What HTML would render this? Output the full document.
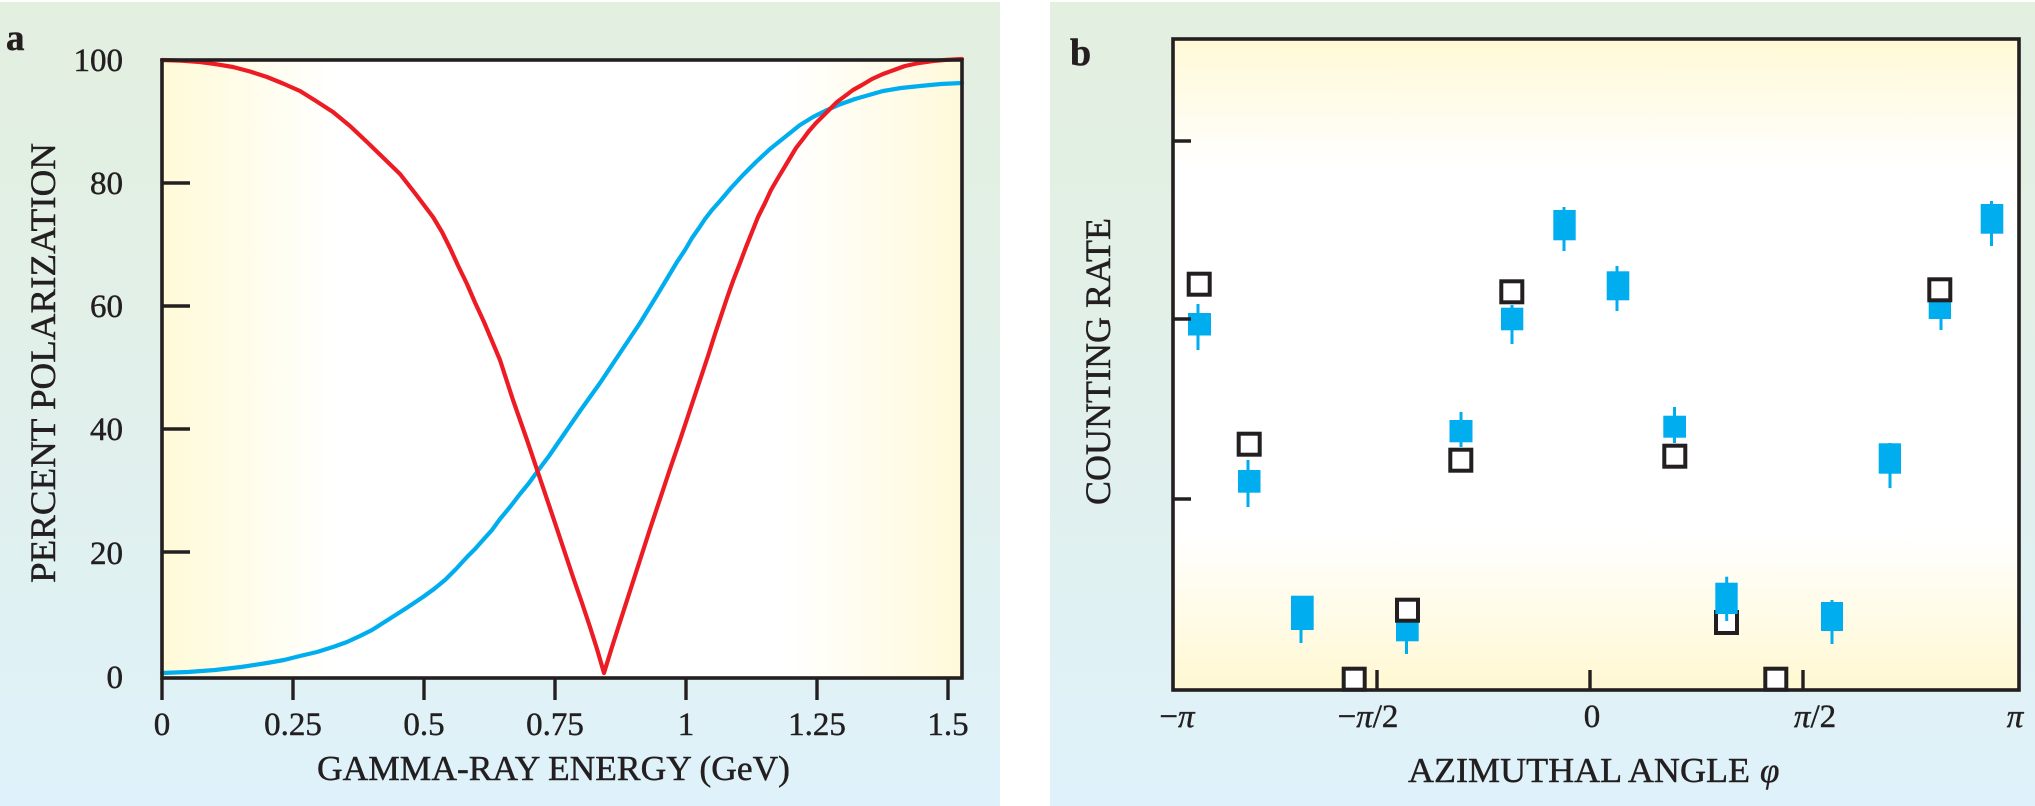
<!DOCTYPE html>
<html>
<head>
<meta charset="utf-8">
<style>
  html,body{margin:0;padding:0;background:#ffffff;}
  svg{display:block;}
  text{font-family:"Liberation Serif","DejaVu Serif",serif;fill:#231F20;stroke:#231F20;stroke-width:0.45px;}
</style>
</head>
<body>
<svg width="2035" height="806" viewBox="0 0 2035 806" xmlns="http://www.w3.org/2000/svg">
  <defs>
    <linearGradient id="outer" x1="0" y1="0" x2="0" y2="1">
      <stop offset="0" stop-color="#E3EFDF"/>
      <stop offset="0.5" stop-color="#E1F0EB"/>
      <stop offset="1" stop-color="#DFF2FB"/>
    </linearGradient>
    <linearGradient id="innerA" x1="162" y1="0" x2="962" y2="0" gradientUnits="userSpaceOnUse">
      <stop offset="0" stop-color="#FFFAD7"/>
      <stop offset="0.22" stop-color="#FFFFFF"/>
      <stop offset="0.78" stop-color="#FFFFFF"/>
      <stop offset="1" stop-color="#FFF9DA"/>
    </linearGradient>
    <linearGradient id="innerB" x1="0" y1="39" x2="0" y2="690" gradientUnits="userSpaceOnUse">
      <stop offset="0" stop-color="#FFF9D6"/>
      <stop offset="0.2" stop-color="#FFFFFF"/>
      <stop offset="0.76" stop-color="#FFFFFF"/>
      <stop offset="1" stop-color="#FFF8D2"/>
    </linearGradient>
  </defs>

  <!-- Panel backgrounds -->
  <rect x="0" y="2" width="1000" height="804" fill="url(#outer)"/>
  <rect x="1050" y="2" width="985" height="804" fill="url(#outer)"/>

  <!-- ================= PANEL A ================= -->
  <rect x="162" y="60" width="800" height="618" fill="url(#innerA)"/>

  <!-- curves -->
  <path fill="none" stroke="#00AEEF" stroke-width="4.2" stroke-linejoin="round" stroke-linecap="round"
    d="M162,673 L188,672 L215,670 L241,667 L267,663 L284,660 L300,656 L317,652 L333,647 L347,642 L360,636 L372,630 L383,623 L394,616 L405,609 L414,603 L423,597 L434,589 L445,580 L456,569 L467,557 L475,549 L483,540 L492,530 L500,519 L510,507 L520,494 L529,483 L537,472 L549,456 L560,440 L580,411 L600,383 L620,353 L640,323 L659,292 L677,262 L685,250 L692,238 L699,228 L705,219 L712,210 L720,201 L731,188 L743,175 L756,162 L770,149 L785,137 L800,125 L813,117 L827,110 L841,104 L855,99 L869,95 L883,91 L901,88 L920,86 L941,84 L962,83"/>
  <path fill="none" stroke="#ED1C24" stroke-width="4.2" stroke-linejoin="round" stroke-linecap="round"
    d="M162,60 L181,60.6 L200,62 L216,64.2 L233,67 L250,71.5 L267,77 L283,83.5 L300,91 L316,101 L333,112 L350,126 L367,142 L383,157.5 L400,174 L416,194.5 L433,217 L442,232 L450,248 L458,265.5 L467,284 L475,302.5 L484,322 L492,341 L500,360 L513,400 L527,440 L540,478.5 L553,517 L563,547 L573,577 L582,603 L590,627 L597,649 L604,673 L612,647 L620,622 L630,591 L640,560 L650,529 L660,499 L670,469 L680,440 L690,410 L700,380 L708,356 L715,334 L721,316 L727,298 L733,281 L740,263 L746,247 L752,232 L758,217 L765,203 L771,190 L778,178 L784,168 L790,158 L796,148 L803,139 L809,131 L816,123 L823,116 L830,109 L837,102 L845,96 L853,90 L862,85 L872,79 L883,74 L894,70 L905,66 L919,63 L933,61 L947,59.8 L962,59"/>

  <!-- axes box -->
  <rect x="162" y="60" width="800" height="618" fill="none" stroke="#231F20" stroke-width="3.6"/>
  <g stroke="#231F20" stroke-width="3.4">
    <line x1="162" y1="183" x2="190" y2="183"/>
    <line x1="162" y1="306" x2="190" y2="306"/>
    <line x1="162" y1="429" x2="190" y2="429"/>
    <line x1="162" y1="552" x2="190" y2="552"/>
    <line x1="162" y1="678" x2="162" y2="700"/>
    <line x1="293" y1="678" x2="293" y2="700"/>
    <line x1="424" y1="678" x2="424" y2="700"/>
    <line x1="555" y1="678" x2="555" y2="700"/>
    <line x1="686" y1="678" x2="686" y2="700"/>
    <line x1="817" y1="678" x2="817" y2="700"/>
    <line x1="948" y1="678" x2="948" y2="700"/>
  </g>
  <!-- y tick labels -->
  <g font-size="33" text-anchor="end">
    <text x="123" y="71">100</text>
    <text x="123" y="194">80</text>
    <text x="123" y="317">60</text>
    <text x="123" y="440">40</text>
    <text x="123" y="564">20</text>
    <text x="123" y="688">0</text>
  </g>
  <!-- x tick labels -->
  <g font-size="33" text-anchor="middle">
    <text x="162" y="735">0</text>
    <text x="293" y="735">0.25</text>
    <text x="424" y="735">0.5</text>
    <text x="555" y="735">0.75</text>
    <text x="686" y="735">1</text>
    <text x="817" y="735">1.25</text>
    <text x="948" y="735">1.5</text>
  </g>
  <text x="317" y="780" font-size="35" textLength="473" lengthAdjust="spacingAndGlyphs">GAMMA-RAY ENERGY (GeV)</text>
  <text transform="translate(55,583) rotate(-90)" x="0" y="0" font-size="36" textLength="440" lengthAdjust="spacingAndGlyphs">PERCENT POLARIZATION</text>
  <text x="6" y="50" font-size="37" font-weight="bold">a</text>

  <!-- ================= PANEL B ================= -->
  <rect x="1173" y="39" width="846" height="651" fill="url(#innerB)"/>

  <!-- blue data points (under squares) -->
  <g fill="#00AEEF" stroke="none">
    <rect x="1188" y="313" width="23" height="22.5"/>
    <rect x="1238" y="470" width="22.5" height="22.7"/>
    <rect x="1449.5" y="420" width="23" height="22.3"/>
    <rect x="1501" y="307.7" width="22.3" height="22.6"/>
    <rect x="1553.3" y="210" width="22.4" height="30.3"/>
    <rect x="1606.7" y="271.3" width="22.6" height="29"/>
    <rect x="1663.3" y="415.7" width="22.7" height="22"/>
    <rect x="1878.7" y="443.3" width="22.3" height="30.4"/>
    <rect x="1928.7" y="296" width="22.3" height="23"/>
    <rect x="1980.7" y="204" width="22.6" height="29.7"/>
    <rect x="1291" y="595.7" width="22.7" height="34.3"/>
    <rect x="1396" y="612" width="22.7" height="29.3"/>
    <rect x="1821" y="602" width="22" height="29"/>
  </g>
  <g stroke="#00AEEF" stroke-width="3">
    <line x1="1198" y1="304" x2="1198" y2="350"/>
    <line x1="1248" y1="460" x2="1248" y2="507"/>
    <line x1="1461" y1="412" x2="1461" y2="447"/>
    <line x1="1512" y1="305" x2="1512" y2="344"/>
    <line x1="1564" y1="207" x2="1564" y2="251"/>
    <line x1="1617" y1="266" x2="1617" y2="311"/>
    <line x1="1674.5" y1="407" x2="1674.5" y2="443"/>
    <line x1="1890" y1="443" x2="1890" y2="488"/>
    <line x1="1941" y1="300" x2="1941" y2="330"/>
    <line x1="1991.5" y1="201" x2="1991.5" y2="246"/>
    <line x1="1301" y1="596" x2="1301" y2="643"/>
    <line x1="1406.5" y1="605" x2="1406.5" y2="654"/>
    <line x1="1832" y1="600" x2="1832" y2="644"/>
  </g>

  <!-- open squares -->
  <g fill="#FFFFFF" stroke="#231F20" stroke-width="4">
    <rect x="1188.7" y="273.7" width="21" height="21"/>
    <rect x="1238.7" y="433.7" width="21" height="21"/>
    <rect x="1450.3" y="449.7" width="21" height="21"/>
    <rect x="1501.3" y="281.3" width="21" height="21"/>
    <rect x="1664.3" y="445.7" width="21" height="21"/>
    <rect x="1929.3" y="279.3" width="21" height="21"/>
    <rect x="1343.7" y="668.7" width="21" height="21"/>
    <rect x="1397" y="599.7" width="21" height="21"/>
    <rect x="1716" y="612" width="21" height="21"/>
    <rect x="1765.3" y="668.7" width="21" height="21"/>
  </g>

  <!-- blue point drawn over square -->
  <rect x="1715.3" y="582.7" width="22.4" height="31.3" fill="#00AEEF"/>
  <line x1="1726.7" y1="576.7" x2="1726.7" y2="621" stroke="#00AEEF" stroke-width="3"/>

  <!-- axes box -->
  <rect x="1173" y="39" width="846" height="651" fill="none" stroke="#231F20" stroke-width="3.6"/>
  <g stroke="#231F20" stroke-width="3.4">
    <line x1="1173" y1="141" x2="1191" y2="141"/>
    <line x1="1173" y1="319" x2="1191" y2="319"/>
    <line x1="1173" y1="499" x2="1191" y2="499"/>
    <line x1="1377" y1="690" x2="1377" y2="670"/>
    <line x1="1590" y1="690" x2="1590" y2="670"/>
    <line x1="1803" y1="690" x2="1803" y2="670"/>
  </g>

  <!-- x tick labels -->
  <g font-size="33" text-anchor="middle">
    <text x="1177" y="727">−<tspan font-style="italic">π</tspan></text>
    <text x="1368" y="727">−<tspan font-style="italic">π</tspan>/2</text>
    <text x="1592" y="727">0</text>
    <text x="1815" y="727"><tspan font-style="italic">π</tspan>/2</text>
    <text x="2015" y="727" font-style="italic">π</text>
  </g>
  <text x="1408" y="782" font-size="35" textLength="342" lengthAdjust="spacingAndGlyphs">AZIMUTHAL ANGLE</text>
  <text x="1760" y="782" font-size="35" font-style="italic">φ</text>
  <text transform="translate(1110,505) rotate(-90)" x="0" y="0" font-size="36" textLength="287" lengthAdjust="spacingAndGlyphs">COUNTING RATE</text>
  <text x="1070" y="65" font-size="38" font-weight="bold">b</text>
</svg>
</body>
</html>
